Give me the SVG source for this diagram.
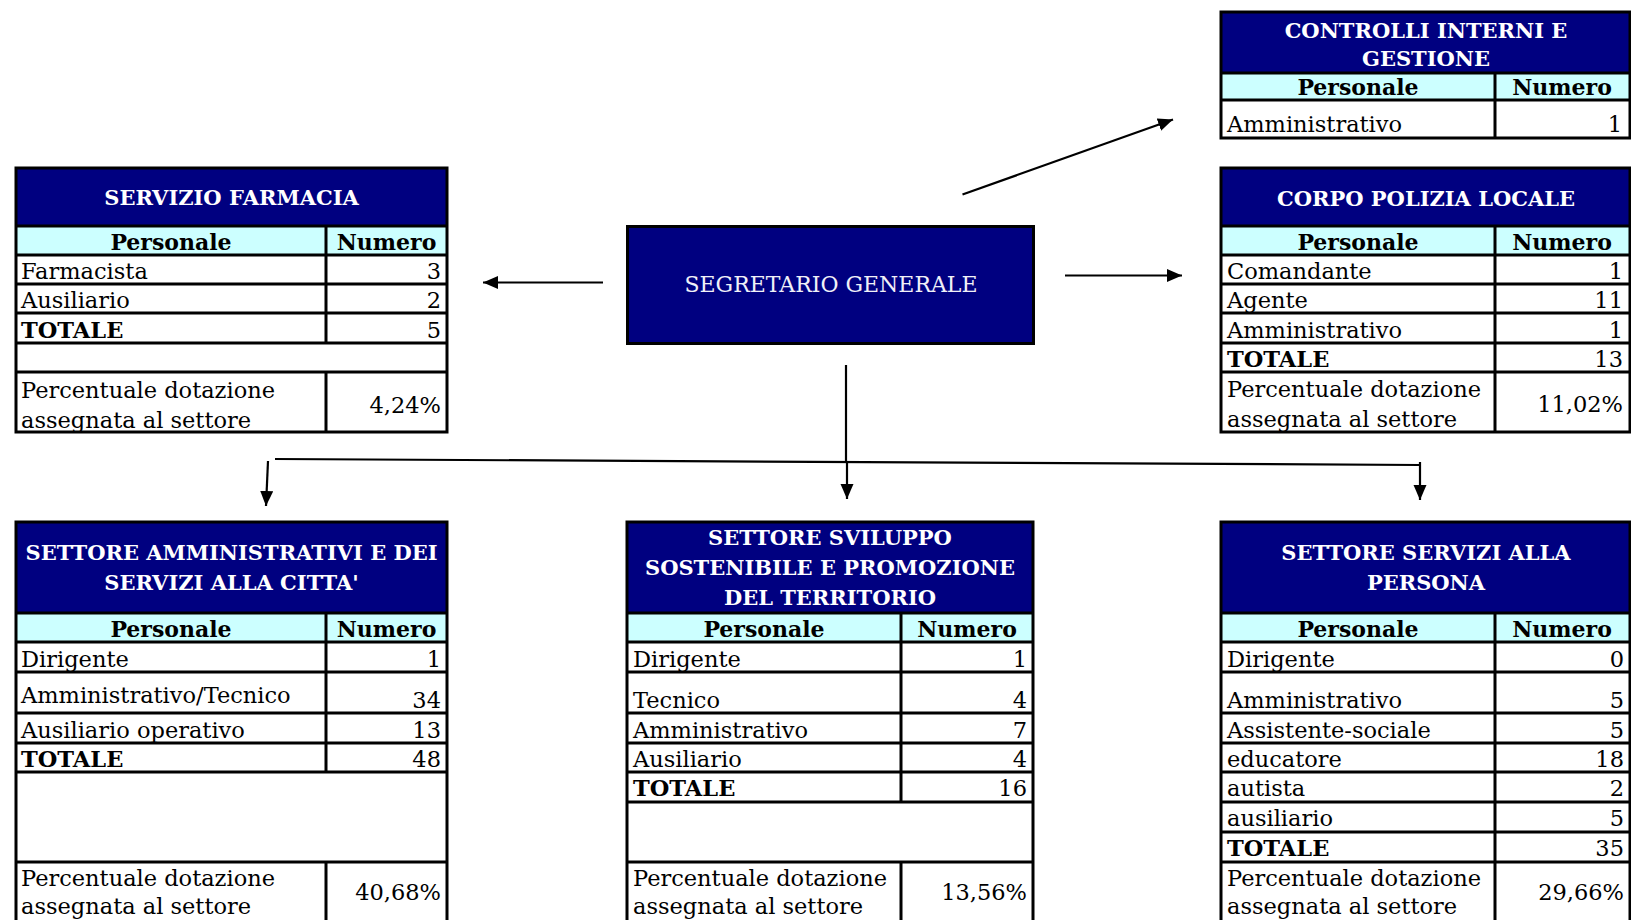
<svg xmlns="http://www.w3.org/2000/svg" width="1631" height="920" viewBox="0 0 1631 920">
<style>
.hd{fill:#000080}
.lt{fill:#CCFFFF}
.wh{fill:#FFFFFF}
.ln{stroke:#000;stroke-width:3;fill:none}
.t{font-family:"DejaVu Serif",serif;font-size:22.5px;fill:#000}
.b{font-weight:bold}
.e{text-anchor:end}
.ttl{font-family:"DejaVu Serif",serif;font-size:21px;font-weight:bold;fill:#fff;text-anchor:middle}
.ch{font-family:"DejaVu Serif",serif;font-size:22px;font-weight:bold;fill:#000;text-anchor:middle}
.con{stroke:#000;stroke-width:2.2;fill:none}
</style>
<defs>
<marker id="ah" markerUnits="userSpaceOnUse" markerWidth="16" markerHeight="14" refX="15" refY="6.5" orient="auto">
<path d="M0,0 L15,6.5 L0,13 Z" fill="#000"/>
</marker>
</defs>
<rect width="1631" height="920" fill="#fff"/>

<g id="connectors">
<path class="con" d="M603,282.5 L483,282.5" marker-end="url(#ah)"/>
<path class="con" d="M1065,275.5 L1182,275.5" marker-end="url(#ah)"/>
<path class="con" d="M962.5,194.5 L1173,119.5" marker-end="url(#ah)"/>
<path class="con" d="M846,365 L846,461" stroke-width="1.5"/>
<path class="con" d="M275,459 L1420,465" stroke-width="2.5"/>
<path class="con" d="M268,461 L266,506" marker-end="url(#ah)"/>
<path class="con" d="M847,461 L847,499" marker-end="url(#ah)"/>
<path class="con" d="M1420,462 L1420,500" marker-end="url(#ah)"/>
</g>

<g id="segretario">
<rect x="627.5" y="226.5" width="406" height="117" fill="#000080" stroke="#000" stroke-width="3"/>
<text x="831" y="292" font-family="DejaVu Serif, serif" font-size="22" fill="#F0F0F8" text-anchor="middle">SEGRETARIO GENERALE</text>
</g>

<g id="controlli">
<rect class="wh" x="1221" y="12" width="409" height="126"/>
<rect class="hd" x="1221" y="12" width="409" height="61"/>
<rect class="lt" x="1221" y="73" width="409" height="27"/>
<text class="ttl" x="1426" y="38">CONTROLLI INTERNI E</text>
<text class="ttl" x="1426" y="66">GESTIONE</text>
<text class="ch" x="1358" y="95">Personale</text>
<text class="ch" x="1562" y="95">Numero</text>
<text class="t" x="1227" y="132">Amministrativo</text>
<text class="t e" x="1622" y="132">1</text>
<path class="ln" d="M1221,12 H1630 V138 H1221 Z M1221,73 H1630 M1221,100 H1630 M1495,73 V138"/>
</g>

<g id="farmacia">
<rect class="wh" x="16" y="168" width="431" height="264"/>
<rect class="hd" x="16" y="168" width="431" height="58"/>
<rect class="lt" x="16" y="226" width="431" height="29"/>
<text class="ttl" x="231.5" y="205">SERVIZIO FARMACIA</text>
<text class="ch" x="171" y="249.5">Personale</text>
<text class="ch" x="386.5" y="249.5">Numero</text>
<text class="t" x="21" y="279">Farmacista</text>
<text class="t e" x="441" y="279">3</text>
<text class="t" x="21" y="308">Ausiliario</text>
<text class="t e" x="441" y="308">2</text>
<text class="t b" x="21" y="338">TOTALE</text>
<text class="t e" x="441" y="338">5</text>
<text class="t" x="21" y="398">Percentuale dotazione</text>
<text class="t" x="21" y="428">assegnata al settore</text>
<text class="t e" x="441" y="413">4,24%</text>
<path class="ln" d="M16,168 H447 V432 H16 Z M16,226 H447 M16,255 H447 M16,284 H447 M16,313 H447 M16,343 H447 M16,372 H447 M326,226 V343 M326,372 V432"/>
</g>

<g id="polizia">
<rect class="wh" x="1221" y="168" width="409" height="264"/>
<rect class="hd" x="1221" y="168" width="409" height="58"/>
<rect class="lt" x="1221" y="226" width="409" height="29"/>
<text class="ttl" x="1426" y="206">CORPO POLIZIA LOCALE</text>
<text class="ch" x="1358" y="249.5">Personale</text>
<text class="ch" x="1562" y="249.5">Numero</text>
<text class="t" x="1227" y="279">Comandante</text>
<text class="t e" x="1623" y="279">1</text>
<text class="t" x="1227" y="308">Agente</text>
<text class="t e" x="1623" y="308">11</text>
<text class="t" x="1227" y="338">Amministrativo</text>
<text class="t e" x="1623" y="338">1</text>
<text class="t b" x="1227" y="367">TOTALE</text>
<text class="t e" x="1623" y="367">13</text>
<text class="t" x="1227" y="397">Percentuale dotazione</text>
<text class="t" x="1227" y="427">assegnata al settore</text>
<text class="t e" x="1623" y="412">11,02%</text>
<path class="ln" d="M1221,168 H1630 V432 H1221 Z M1221,226 H1630 M1221,255 H1630 M1221,284 H1630 M1221,313 H1630 M1221,343 H1630 M1221,372 H1630 M1495,226 V432"/>
</g>

<g id="settore-amministrativi">
<rect class="wh" x="16" y="522" width="431" height="403"/>
<rect class="hd" x="16" y="522" width="431" height="91"/>
<rect class="lt" x="16" y="613" width="431" height="29"/>
<text class="ttl" x="231.5" y="560">SETTORE AMMINISTRATIVI E DEI</text>
<text class="ttl" x="231.5" y="590">SERVIZI ALLA CITTA'</text>
<text class="ch" x="171" y="636.5">Personale</text>
<text class="ch" x="386.5" y="636.5">Numero</text>
<text class="t" x="21" y="667">Dirigente</text>
<text class="t e" x="441" y="667">1</text>
<text class="t" x="21" y="703">Amministrativo/Tecnico</text>
<text class="t e" x="441" y="708">34</text>
<text class="t" x="21" y="738">Ausiliario operativo</text>
<text class="t e" x="441" y="738">13</text>
<text class="t b" x="21" y="767">TOTALE</text>
<text class="t e" x="441" y="767">48</text>
<text class="t" x="21" y="886">Percentuale dotazione</text>
<text class="t" x="21" y="914">assegnata al settore</text>
<text class="t e" x="441" y="900">40,68%</text>
<path class="ln" d="M16,925 V522 H447 V925 M16,613 H447 M16,642 H447 M16,672 H447 M16,713 H447 M16,743 H447 M16,772 H447 M16,862 H447 M326,613 V772 M326,862 V925"/>
</g>

<g id="settore-sviluppo">
<rect class="wh" x="627" y="522" width="406" height="403"/>
<rect class="hd" x="627" y="522" width="406" height="91"/>
<rect class="lt" x="627" y="613" width="406" height="29"/>
<text class="ttl" x="830" y="545">SETTORE SVILUPPO</text>
<text class="ttl" x="830" y="575">SOSTENIBILE E PROMOZIONE</text>
<text class="ttl" x="830" y="605">DEL TERRITORIO</text>
<text class="ch" x="764" y="636.5">Personale</text>
<text class="ch" x="967" y="636.5">Numero</text>
<text class="t" x="633" y="667">Dirigente</text>
<text class="t e" x="1027" y="667">1</text>
<text class="t" x="633" y="708">Tecnico</text>
<text class="t e" x="1027" y="708">4</text>
<text class="t" x="633" y="738">Amministrativo</text>
<text class="t e" x="1027" y="738">7</text>
<text class="t" x="633" y="767">Ausiliario</text>
<text class="t e" x="1027" y="767">4</text>
<text class="t b" x="633" y="796">TOTALE</text>
<text class="t e" x="1027" y="796">16</text>
<text class="t" x="633" y="886">Percentuale dotazione</text>
<text class="t" x="633" y="914">assegnata al settore</text>
<text class="t e" x="1027" y="900">13,56%</text>
<path class="ln" d="M627,925 V522 H1033 V925 M627,613 H1033 M627,642 H1033 M627,672 H1033 M627,713 H1033 M627,743 H1033 M627,772 H1033 M627,802 H1033 M627,862 H1033 M901,613 V802 M901,862 V925"/>
</g>

<g id="settore-persona">
<rect class="wh" x="1221" y="522" width="409" height="403"/>
<rect class="hd" x="1221" y="522" width="409" height="91"/>
<rect class="lt" x="1221" y="613" width="409" height="29"/>
<text class="ttl" x="1426" y="560">SETTORE SERVIZI ALLA</text>
<text class="ttl" x="1426" y="590">PERSONA</text>
<text class="ch" x="1358" y="636.5">Personale</text>
<text class="ch" x="1562" y="636.5">Numero</text>
<text class="t" x="1227" y="667">Dirigente</text>
<text class="t e" x="1624" y="667">0</text>
<text class="t" x="1227" y="708">Amministrativo</text>
<text class="t e" x="1624" y="708">5</text>
<text class="t" x="1227" y="738">Assistente-sociale</text>
<text class="t e" x="1624" y="738">5</text>
<text class="t" x="1227" y="767">educatore</text>
<text class="t e" x="1624" y="767">18</text>
<text class="t" x="1227" y="796">autista</text>
<text class="t e" x="1624" y="796">2</text>
<text class="t" x="1227" y="826">ausiliario</text>
<text class="t e" x="1624" y="826">5</text>
<text class="t b" x="1227" y="856">TOTALE</text>
<text class="t e" x="1624" y="856">35</text>
<text class="t" x="1227" y="886">Percentuale dotazione</text>
<text class="t" x="1227" y="914">assegnata al settore</text>
<text class="t e" x="1624" y="900">29,66%</text>
<path class="ln" d="M1221,925 V522 H1630 V925 M1221,613 H1630 M1221,642 H1630 M1221,672 H1630 M1221,713 H1630 M1221,743 H1630 M1221,772 H1630 M1221,802 H1630 M1221,832 H1630 M1221,862 H1630 M1495,613 V925"/>
</g>
</svg>
